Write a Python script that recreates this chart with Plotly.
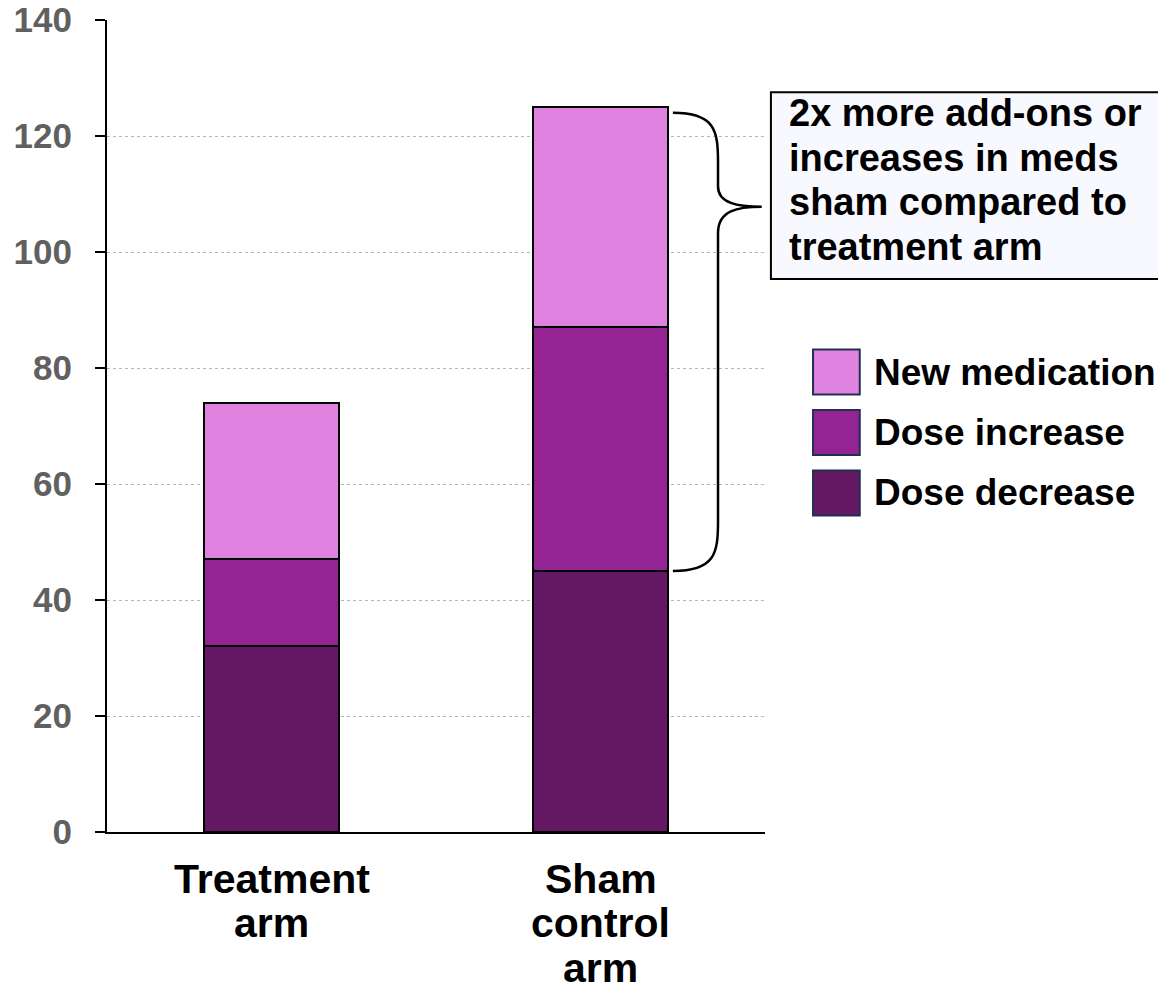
import plotly.graph_objects as go

# Medication changes per study arm (stacked)
categories = ["Treatment<br>arm", "Sham<br>control<br>arm"]
dose_decrease = [32, 45]
dose_increase = [15, 42]
new_medication = [27, 38]

series_names = ["Dose decrease", "Dose increase", "New medication"]
series_colors = ["#641864", "#942394", "#E082E0"]
y_ticks = [0, 20, 40, 60, 80, 100, 120, 140]

callout_lines = ["2x more add-ons or", "increases in meds",
                 "sham compared to", "treatment arm"]

FONT = "Liberation Sans, Arial, sans-serif"

fig = go.Figure()
for name, vals, col in zip(series_names,
                           [dose_decrease, dose_increase, new_medication],
                           series_colors):
    fig.add_trace(go.Bar(
        x=categories, y=vals, name=name,
        marker=dict(color=col, line=dict(color="black", width=2)),
        showlegend=False,
    ))

fig.update_layout(
    width=1158, height=990,
    margin=dict(l=107, r=393, t=20, b=158, autoexpand=False),
    barmode="stack", bargap=0.59,
    plot_bgcolor="white", paper_bgcolor="white",
    font=dict(family=FONT),
)
fig.update_xaxes(
    showticklabels=False, showline=True, linecolor="black", linewidth=2,
    ticks="", showgrid=False, automargin=False,
)
fig.update_yaxes(
    range=[0, 140], tickvals=y_ticks, ticks="outside", ticklen=10,
    tickwidth=2, tickcolor="black", showline=True, linecolor="black",
    linewidth=2, showgrid=True, gridcolor="#B8B8B8", griddash="dot",
    gridwidth=1, zeroline=False, ticklabelstandoff=16, automargin=False,
    tickfont=dict(size=35, color="#606060", family=FONT, weight="bold"),
)

# Category labels, one annotation per line
for cat in categories:
    for i, line in enumerate(cat.split("<br>")):
        fig.add_annotation(
            x=cat, xref="x", y=-0.058 - i * 0.0545, yref="paper",
            text=line, showarrow=False, xanchor="center", yanchor="middle",
            height=44, valign="middle",
            font=dict(size=41, color="black", family=FONT, weight="bold"),
        )

# Curly brace spanning the sham bar's increase + new-medication segments
top = dose_decrease[1] + dose_increase[1] + new_medication[1] - 1.0
bot = dose_decrease[1]
tip = 107.8
xs, xv, xt = 0.860, 0.9286, 0.995
brace = (
    f"M {xs},{top} C {xv - 0.005},{top} {xv},{top - 3} {xv},{top - 8.5} "
    f"L {xv},{tip + 3.5} C {xv},{tip + 0.6} {xv + 0.03},{tip} {xt},{tip} "
    f"C {xv + 0.03},{tip} {xv},{tip - 0.6} {xv},{tip - 4.5} "
    f"L {xv},{bot + 8.5} C {xv},{bot + 3} {xv - 0.005},{bot} {xs},{bot}"
)
fig.add_shape(type="path", path=brace, xref="paper", yref="y",
              line=dict(color="black", width=2.5))

# Callout box
fig.add_shape(type="rect", xref="paper", yref="paper",
              x0=1.009, x1=1.62, y0=0.681, y1=0.911,
              fillcolor="#F8F9FE", line=dict(color="black", width=2))
for i, line in enumerate(callout_lines):
    fig.add_annotation(
        x=1.0334, xref="paper", y=0.8855 - i * 0.0551, yref="paper",
        text=line, showarrow=False, xanchor="left", yanchor="middle",
        font=dict(size=38, color="black", family=FONT, weight="bold"),
    )

# Legend drawn with large swatches
legend_order = [2, 1, 0]
for row, idx in enumerate(legend_order):
    yc = 0.5665 - row * 0.0745
    fig.add_shape(type="rect", xref="paper", yref="paper",
                  x0=1.073, x1=1.144, y0=yc - 0.0277, y1=yc + 0.0277,
                  fillcolor=series_colors[idx],
                  line=dict(color="#1F3050", width=2))
    fig.add_annotation(
        x=1.162, xref="paper", y=yc, yref="paper",
        text=series_names[idx], showarrow=False, xanchor="left",
        yanchor="middle",
        font=dict(size=37, color="black", family=FONT, weight="bold"),
    )

fig.write_html("out.html")
